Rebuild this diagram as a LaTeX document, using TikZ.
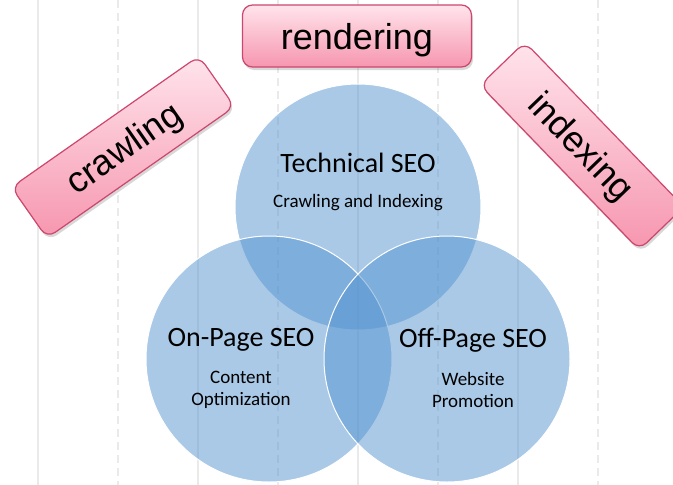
\documentclass[tikz,border=0pt]{standalone}
\usepackage{fontspec}
\setmainfont{Carlito}
\newfontfamily\boxfont{Liberation Sans}
\usetikzlibrary{shadows}
\definecolor{venn}{RGB}{85,148,208}
\definecolor{gridgray}{RGB}{234,234,234}
\definecolor{pinktop}{RGB}{255,228,236}
\definecolor{pinkbot}{RGB}{246,150,175}
\definecolor{pinkedge}{RGB}{205,70,110}
\begin{document}
\begin{tikzpicture}[x=1pt,y=-1pt,
  vennc/.style={circle, minimum size=246pt, inner sep=0pt, fill=venn, fill opacity=0.5, draw=white, draw opacity=1, line width=1pt},
  titletext/.style={font=\fontsize{28}{30}\selectfont, inner sep=0pt},
  subtext/.style={font=\fontsize{19}{21.5}\selectfont, align=center, inner sep=0pt},
  tagbox/.style={rounded corners=10pt, minimum width=229pt, minimum height=62pt, inner sep=0pt,
    top color=pinktop, bottom color=pinkbot, draw=pinkedge, line width=1.2pt,
    font=\boxfont\fontsize{36}{40}\selectfont, text height=26pt, text depth=0pt,
    drop shadow={opacity=0.3, shadow xshift=1.5pt, shadow yshift=-3pt}},
  solidgrid/.style={gridgray, line width=1.5pt},
  dashgrid/.style={gridgray, line width=1.5pt, dash pattern=on 8pt off 5pt}]
\useasboundingbox (0,0) rectangle (673,485);
\fill[white] (0,0) rectangle (673,485);
% background grid lines
\foreach \gx in {38,198,358,518} \draw[solidgrid] (\gx,0) -- (\gx,485);
\foreach \gx in {118,278,438,598} \draw[dashgrid] (\gx,0) -- (\gx,485);
% Venn circles
\node[vennc] (tech) at (358,207) {};
\node[vennc] (onpage) at (269,359) {};
\node[vennc] (offpage) at (447,359) {};
% circle texts
\node[titletext] (techt) at (358,163) {Technical SEO};
\node[subtext] (techs) at (358,203) {Crawling and Indexing};
\node[titletext] (ont) at (241,340) {On-Page SEO};
\node[subtext] (ons) at (241,390) {Content\\Optimization};
\node[titletext] (offt) at (473,340) {Off-Page SEO};
\node[subtext] (offs) at (473,390) {Website\\Promotion};
% tags
\node[tagbox] (rend) at (357,36) {rendering};
\node[tagbox, rotate=35] (crawl) at (123,147) {crawling};
\node[tagbox, rotate=-46] (index) at (582,146) {indexing};
\end{tikzpicture}
\end{document}
